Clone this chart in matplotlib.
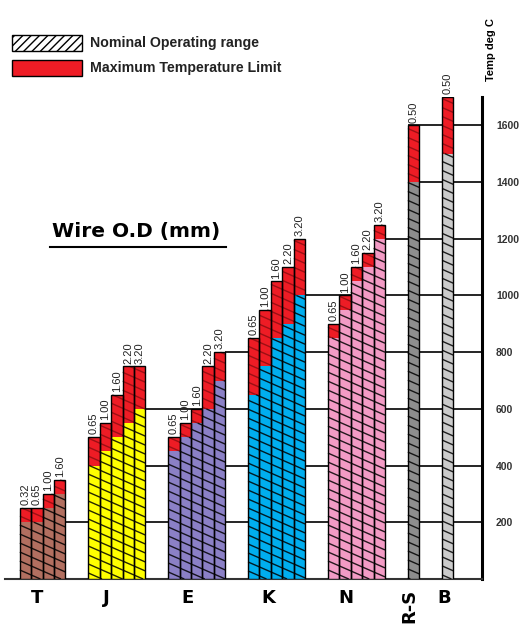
import numpy as np
import matplotlib.pyplot as plt
from matplotlib.patches import Rectangle
from matplotlib.collections import LineCollection
from matplotlib.lines import Line2D

# Thermocouple types, wire diameters (mm) and temperature limits (deg C)
types = ['T', 'J', 'E', 'K', 'N', 'R-S', 'B']
sizes = [['0.32', '0.65', '1.00', '1.60'],
         ['0.65', '1.00', '1.60', '2.20', '3.20'],
         ['0.65', '1.00', '1.60', '2.20', '3.20'],
         ['0.65', '1.00', '1.60', '2.20', '3.20'],
         ['0.65', '1.00', '1.60', '2.20', '3.20'],
         ['0.50'],
         ['0.50']]
nominal = [[200, 200, 250, 300],
           [400, 450, 500, 550, 600],
           [450, 500, 550, 600, 700],
           [650, 750, 850, 900, 1000],
           [850, 950, 1050, 1100, 1200],
           [1400],
           [1500]]
maximum = [[250, 250, 300, 350],
           [500, 550, 650, 750, 750],
           [500, 550, 600, 750, 800],
           [850, 950, 1050, 1100, 1200],
           [900, 1000, 1100, 1150, 1250],
           [1600],
           [1700]]
colors = ['#b26f60', '#ffff00', '#8b80c6', '#00aeef', '#f39bc5', '#8e8e8e', '#cbcbcb']
red = '#ee1c25'
yticks = [200, 400, 600, 800, 1000, 1200, 1400, 1600]

W, H = 526, 629
fig = plt.figure(figsize=(W / 100, H / 100), dpi=100)
ax = fig.add_axes([5 / W, 50 / H, 477 / W, 482 / H])
ax.set_xlim(-1.3, 40.5)
ax.set_ylim(0, 1700)

# group positions: 2 bar-widths gap between groups
starts, pos = [], 0
for s in sizes:
    starts.append(pos)
    pos += len(s) + 2
ends = [st + len(s) for st, s in zip(starts, sizes)]

# staircase grid lines
grid_from = [ends[0], ends[1], ends[1], ends[2], ends[3], ends[4], starts[5], starts[5]]
for lvl, x0 in zip(yticks, grid_from):
    ax.hlines(lvl, x0, 40.5, color='black', lw=1.2, zorder=1)

slope, spacing = 17.6, 31.7


def hatch(x0, w, y0, y1, color, alpha):
    # shallow "\" hatch lines, clipped to the bar rectangle
    segs = []
    k0 = int(np.floor((y0 + slope * x0) / spacing))
    k1 = int(np.ceil((y1 + slope * (x0 + w)) / spacing))
    for k in range(k0, k1 + 1):
        c = k * spacing
        xa = max(x0, (c - y1) / slope)
        xb = min(x0 + w, (c - y0) / slope)
        if xb > xa:
            segs.append([(xa, c - slope * xa), (xb, c - slope * xb)])
    ax.add_collection(LineCollection(segs, colors=color, linewidths=1.0,
                                     alpha=alpha, zorder=3.5))


for g, t in enumerate(types):
    x = np.arange(len(sizes[g])) + starts[g]
    nom = np.array(nominal[g])
    mx = np.array(maximum[g])
    ax.bar(x, nom, width=1, align='edge', color=colors[g], lw=0, zorder=3)
    ax.bar(x, mx - nom, bottom=nom, width=1, align='edge', color=red, lw=0, zorder=3)
    for i in range(len(x)):
        hatch(x[i], 1, 0, nom[i], 'black', 0.85)
        hatch(x[i], 1, nom[i], mx[i], '#3a0000', 0.45)
    ax.bar(x, mx, width=1, align='edge', fill=False, edgecolor='black', lw=1, zorder=4)
    for xi, top, lab in zip(x, mx, sizes[g]):
        ax.annotate(lab, (xi + 0.5, top), xytext=(0, 2), textcoords='offset points',
                    rotation=90, ha='center', va='bottom', fontsize=8,
                    family='Liberation Sans', color='#222222')

# type labels under the groups
label_shift = [-0.5, -0.9, -0.8, -0.7, -0.9, -0.35, -0.3]
for g, t in enumerate(types):
    cx = starts[g] + len(sizes[g]) / 2 + label_shift[g]
    ax.text(cx, -35, t, ha='center', va='top', fontsize=13, fontweight='bold',
            rotation=90 if t == 'R-S' else 0, clip_on=False)

ax.spines['left'].set_visible(False)
ax.spines['top'].set_visible(False)
ax.spines['right'].set_linewidth(2.2)
ax.spines['bottom'].set_linewidth(1.5)
ax.spines['bottom'].set_color('#333333')
ax.set_xticks([])
ax.yaxis.tick_right()
ax.set_yticks(yticks)
ax.set_yticklabels([str(v) for v in yticks], family='Liberation Sans',
                   fontweight='bold', color='#333333')
ax.tick_params(axis='y', length=0, pad=10, labelsize=7.5)

# legend
fig.add_artist(Rectangle((12 / W, 1 - 51 / H), 70 / W, 16 / H, transform=fig.transFigure,
                         facecolor='white', edgecolor='black', hatch='////', lw=1))
fig.add_artist(Rectangle((12 / W, 1 - 76 / H), 70 / W, 16 / H, transform=fig.transFigure,
                         facecolor=red, edgecolor='black', lw=1))
fig.text(90 / W, 1 - 43 / H, 'Nominal Operating range', fontsize=10.2, fontweight='bold',
         va='center', family='Liberation Sans', color='#222222')
fig.text(90 / W, 1 - 68 / H, 'Maximum Temperature Limit', fontsize=10.2, fontweight='bold',
         va='center', family='Liberation Sans', color='#222222')

fig.text(52 / W, 1 - 231 / H, 'Wire O.D (mm)', fontsize=14.5, fontweight='bold', va='center')
fig.add_artist(Line2D([50 / W, 226 / W], [1 - 247 / H] * 2, transform=fig.transFigure,
                      color='black', lw=1.5))

fig.text(491 / W, 1 - 50 / H, 'Temp deg C', rotation=90, ha='center', va='center',
         fontsize=8, fontweight='bold', family='Liberation Sans')

plt.savefig('out.png', dpi=100)
